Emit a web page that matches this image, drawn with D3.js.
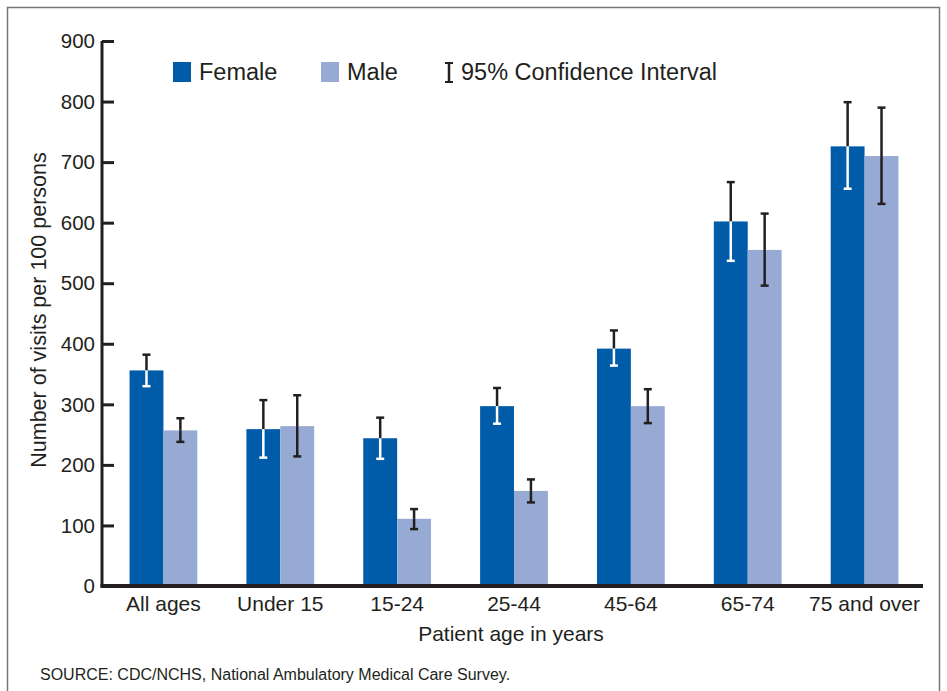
<!DOCTYPE html>
<html><head><meta charset="utf-8">
<script src="https://cdn.jsdelivr.net/npm/d3@7"></script>
<style>body{margin:0;background:#fff}svg{display:block;font-family:"Liberation Sans",Arial,sans-serif}</style>
</head><body><svg id="c" width="947" height="691"></svg>
<script>
const categories = ["All ages","Under 15","15-24","25-44","45-64","65-74","75 and over"];
const femaleValues = [356, 259, 244, 297, 392, 602, 726];
const femaleLow = [330, 212, 210, 268, 364, 537, 656];
const femaleHigh = [382, 307, 278, 327, 422, 667, 799];
const maleValues = [257, 264, 111, 157, 297, 555, 710];
const maleLow = [238, 214, 94, 138, 269, 496, 631];
const maleHigh = [277, 315, 127, 176, 325, 615, 790];
const yTicks = [0,100,200,300,400,500,600,700,800,900];
const seriesNames = ["Female","Male"];

const colors = {Female:"#005ba9", Male:"#97aad4"};
const dark = "#231f20";
const svg = d3.select("#c");

// frame
svg.append("rect").attr("x",7.5).attr("y",7.5).attr("width",932).attr("height",720)
  .attr("fill","none").attr("stroke","#777").attr("stroke-width",1.5);

const y = d3.scaleLinear().domain([0,900]).range([586,41]);
const x0 = d3.scaleBand().domain(categories).range([105,923]).paddingInner(0.42).paddingOuter(0.21);
const x1 = d3.scaleBand().domain(seriesNames).range([0,x0.bandwidth()]);

const data = categories.map((c,i)=>({cat:c, series:[
  {name:"Female", v:femaleValues[i], lo:femaleLow[i], hi:femaleHigh[i]},
  {name:"Male", v:maleValues[i], lo:maleLow[i], hi:maleHigh[i]}
]}));

const g = svg.append("g");
const groups = g.selectAll("g.grp").data(data).join("g").attr("transform",d=>`translate(${x0(d.cat)},0)`);
groups.selectAll("rect").data(d=>d.series).join("rect")
  .attr("x",d=>x1(d.name)).attr("width",x1.bandwidth())
  .attr("y",d=>y(d.v)).attr("height",d=>y(0)-y(d.v)).attr("fill",d=>colors[d.name]);

// error bars
groups.each(function(d){
  const gg = d3.select(this);
  d.series.forEach(s=>{
    const cx = x1(s.name)+x1.bandwidth()/2;
    const inner = s.name==="Female";
    const lowColor = inner ? "#fff" : dark;
    gg.append("line").attr("x1",cx).attr("x2",cx).attr("y1",y(s.hi)).attr("y2",y(s.v))
      .attr("stroke",dark).attr("stroke-width",2.5);
    gg.append("line").attr("x1",cx).attr("x2",cx).attr("y1",y(s.v)).attr("y2",y(s.lo))
      .attr("stroke",lowColor).attr("stroke-width",2.5);
    gg.append("line").attr("x1",cx-4).attr("x2",cx+4).attr("y1",y(s.hi)).attr("y2",y(s.hi))
      .attr("stroke",dark).attr("stroke-width",2.5);
    gg.append("line").attr("x1",cx-4).attr("x2",cx+4).attr("y1",y(s.lo)).attr("y2",y(s.lo))
      .attr("stroke",lowColor).attr("stroke-width",2.5);
  });
});

// y axis
const yAxis = d3.axisRight(y).tickValues(yTicks).tickSize(12).tickFormat("");
const ya = svg.append("g").attr("transform","translate(102,0)").call(yAxis);
ya.select(".domain").attr("stroke",dark).attr("stroke-width",3).attr("d","M0,41V587");
ya.selectAll(".tick line").attr("stroke",dark).attr("stroke-width",3);
svg.append("g").selectAll("text").data(yTicks).join("text")
  .attr("x",95).attr("y",d=>y(d)).attr("dy","0.35em").attr("text-anchor","end")
  .attr("font-size",20.5).attr("fill",dark).text(d=>d);

// x axis baseline
svg.append("line").attr("x1",100.5).attr("x2",923).attr("y1",586).attr("y2",586)
  .attr("stroke",dark).attr("stroke-width",4);
const xAxis = d3.axisBottom(x0).tickSize(0).tickPadding(0);
const xa = svg.append("g").attr("transform","translate(0,586)").call(xAxis);
xa.select(".domain").remove();
xa.selectAll("text").attr("font-size",21).attr("fill",dark).attr("y",25).attr("dy",0)
  .attr("font-family","'Liberation Sans',Arial,sans-serif");

// axis titles
svg.append("text").attr("transform","translate(46,310) rotate(-90)").attr("text-anchor","middle")
  .attr("font-size",21.5).attr("fill",dark).text("Number of visits per 100 persons");
svg.append("text").attr("x",511).attr("y",641).attr("text-anchor","middle")
  .attr("font-size",21).attr("fill",dark).text("Patient age in years");
svg.append("text").attr("x",40).attr("y",680)
  .attr("font-size",16).attr("fill",dark).text("SOURCE: CDC/NCHS, National Ambulatory Medical Care Survey.");

// legend
const leg = svg.append("g");
const legItems = [{name:"Female",x:173},{name:"Male",x:321}];
legItems.forEach(it=>{
  leg.append("rect").attr("x",it.x).attr("y",62).attr("width",18).attr("height",20).attr("fill",colors[it.name]);
  leg.append("text").attr("x",it.x+26).attr("y",80).attr("font-size",23.5).attr("fill",dark).text(it.name);
});
leg.append("line").attr("x1",449).attr("x2",449).attr("y1",63).attr("y2",82).attr("stroke",dark).attr("stroke-width",2.5);
leg.append("line").attr("x1",445).attr("x2",453).attr("y1",63).attr("y2",63).attr("stroke",dark).attr("stroke-width",2);
leg.append("line").attr("x1",445).attr("x2",453).attr("y1",82).attr("y2",82).attr("stroke",dark).attr("stroke-width",2);
leg.append("text").attr("x",461).attr("y",80).attr("font-size",23.5).attr("fill",dark).text("95% Confidence Interval");
</script></body></html>
